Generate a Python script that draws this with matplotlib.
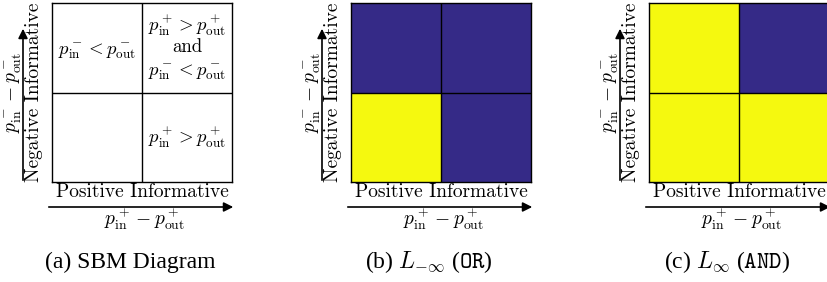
import numpy as np
import matplotlib
matplotlib.use("Agg")
import matplotlib.pyplot as plt

plt.rcParams["mathtext.fontset"] = "cm"
plt.rcParams["font.family"] = ["Liberation Serif", "DejaVu Serif"]

W, H = 828, 282

# grid values: rows from bottom to top, 1 = yellow, 0 = blue
or_grid = [[1, 0], [0, 0]]
and_grid = [[1, 1], [1, 0]]

captions = ["(a) SBM Diagram",
            r"(b) $L_{-\infty}$ ($\mathtt{OR}$)",
            r"(c) $L_{\infty}$ ($\mathtt{AND}$)"]
x_name = "Positive Informative"
y_name = "Negative Informative"
x_diff = r"$p^+_{\rm in} - p^+_{\rm out}$"
y_diff = r"$p^-_{\rm in} - p^-_{\rm out}$"

# cell texts for the diagram: (x px, baseline y px, text)
cell_text = [
    (97, 55, r"$p^-_{\rm in} < p^-_{\rm out}$"),
    (187, 31, r"$p^+_{\rm in} > p^+_{\rm out}$"),
    (187, 52, "and"),
    (187, 76, r"$p^-_{\rm in} < p^-_{\rm out}$"),
    (187, 143, r"$p^+_{\rm in} > p^+_{\rm out}$"),
]

blue = "#352a87"
yellow = "#f5f90f"

box_left = [52, 351, 649]
box_w = 180
box_top, box_bot = 3, 182

fig = plt.figure(figsize=(W / 100, H / 100), dpi=100)


def fx(px):
    return px / W


def fy(py):
    return 1 - py / H


grids = [None, or_grid, and_grid]
for i, left in enumerate(box_left):
    ax = fig.add_axes([fx(left), fy(box_bot), box_w / W, (box_bot - box_top) / H])
    ax.set_xlim(0, 2)
    ax.set_ylim(0, 2)
    ax.set_xticks([])
    ax.set_yticks([])
    for s in ax.spines.values():
        s.set_linewidth(1.0)
    g = grids[i]
    if g is not None:
        cmap = matplotlib.colors.ListedColormap([blue, yellow])
        ax.pcolormesh([0, 1, 2], [0, 1, 2], np.array(g), cmap=cmap, vmin=0, vmax=1)
    ax.axvline(1, color="black", lw=1.0)
    ax.axhline(1, color="black", lw=1.0)
    if g is None:
        for x, y, t in cell_text:
            fig.text(fx(x), fy(y), t, ha="center", va="baseline",
                     fontsize=13.5, family="cmr10")

    cx = left + box_w / 2
    cy = (box_top + box_bot) / 2
    # x arrow
    fig.add_artist(matplotlib.patches.FancyArrowPatch(
        (fx(left - 6), fy(207)), (fx(left + box_w + 4), fy(207)),
        transform=fig.transFigure, arrowstyle="-|>", mutation_scale=14,
        color="black", lw=1.2))
    # y arrow
    fig.add_artist(matplotlib.patches.FancyArrowPatch(
        (fx(left - 29), fy(box_bot + 1)), (fx(left - 29), fy(26)),
        transform=fig.transFigure, arrowstyle="-|>", mutation_scale=14,
        color="black", lw=1.2))
    fig.text(fx(cx), fy(192), x_name, ha="center", va="center",
             fontsize=14, family="cmr10")
    fig.text(fx(cx + 2), fy(219), x_diff, ha="center", va="center", fontsize=14)
    fig.text(fx(left - 18), fy(cy), y_name, ha="center", va="center",
             fontsize=14, family="cmr10", rotation=90)
    fig.text(fx(left - 38), fy(cy), y_diff, ha="center", va="center",
             fontsize=14, rotation=90)
    fig.text(fx(cx - 12), fy(262), captions[i], ha="center", va="center",
             fontsize=17)

fig.savefig("out.png", dpi=100)
